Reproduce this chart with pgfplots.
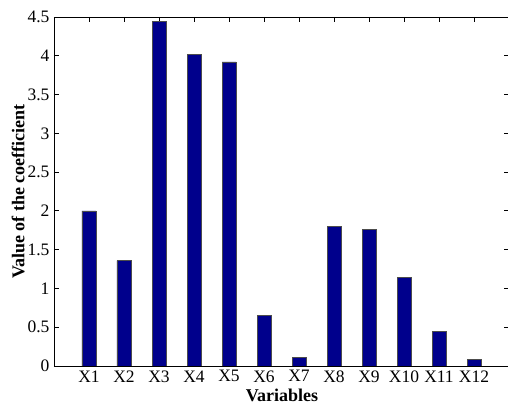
\documentclass[border=0pt]{standalone}
\usepackage{fontspec}
\setmainfont{Liberation Serif}
\usepackage{pgfplots}
\pgfplotsset{compat=1.18}
\definecolor{barblue}{RGB}{0,0,140}
\begin{document}
\begin{tikzpicture}
\begin{axis}[
  scale only axis,
  width=455bp, height=349bp,
  xmin=0, xmax=13, ymin=0, ymax=4.5,
  xtick={1,...,12},
  xticklabels={X1,X2,X3,X4,X5,X6,X7,X8,X9,X10,X11,X12},
  ytick={0,0.5,...,4.5},
  yticklabels={0,0.5,1,1.5,2,2.5,3,3.5,4,4.5},
  tick align=inside,
  major tick length=5bp,
  tick style={black, line width=0.8pt},
  axis line style={line width=0.8pt},
  tick label style={font=\fontsize{17.5bp}{20bp}\selectfont},
  /pgf/number format/assume math mode=true,
  xlabel={\textbf{Variables}},
  ylabel={\textbf{Value of the coefficient}},
  label style={font=\fontsize{18bp}{20bp}\selectfont},
  xlabel style={at={(axis description cs:0.501,-0.083)}, anchor=center},
  ylabel style={at={(axis description cs:-0.079,0.5)}, anchor=center, rotate=0},
  xticklabel style={yshift=-1bp},
  yticklabel style={xshift=-1bp},
]
\addplot[ybar, bar width=14bp, fill=barblue, draw=black!70, line width=0.4pt]
  coordinates {(1,2.00) (2,1.36) (3,4.44) (4,4.02) (5,3.92) (6,0.65)
               (7,0.11) (8,1.80) (9,1.76) (10,1.14) (11,0.45) (12,0.09)};
\end{axis}
\pgfresetboundingbox
\path (-54bp,-41bp) rectangle (454bp,366bp);
\end{tikzpicture}
\end{document}
